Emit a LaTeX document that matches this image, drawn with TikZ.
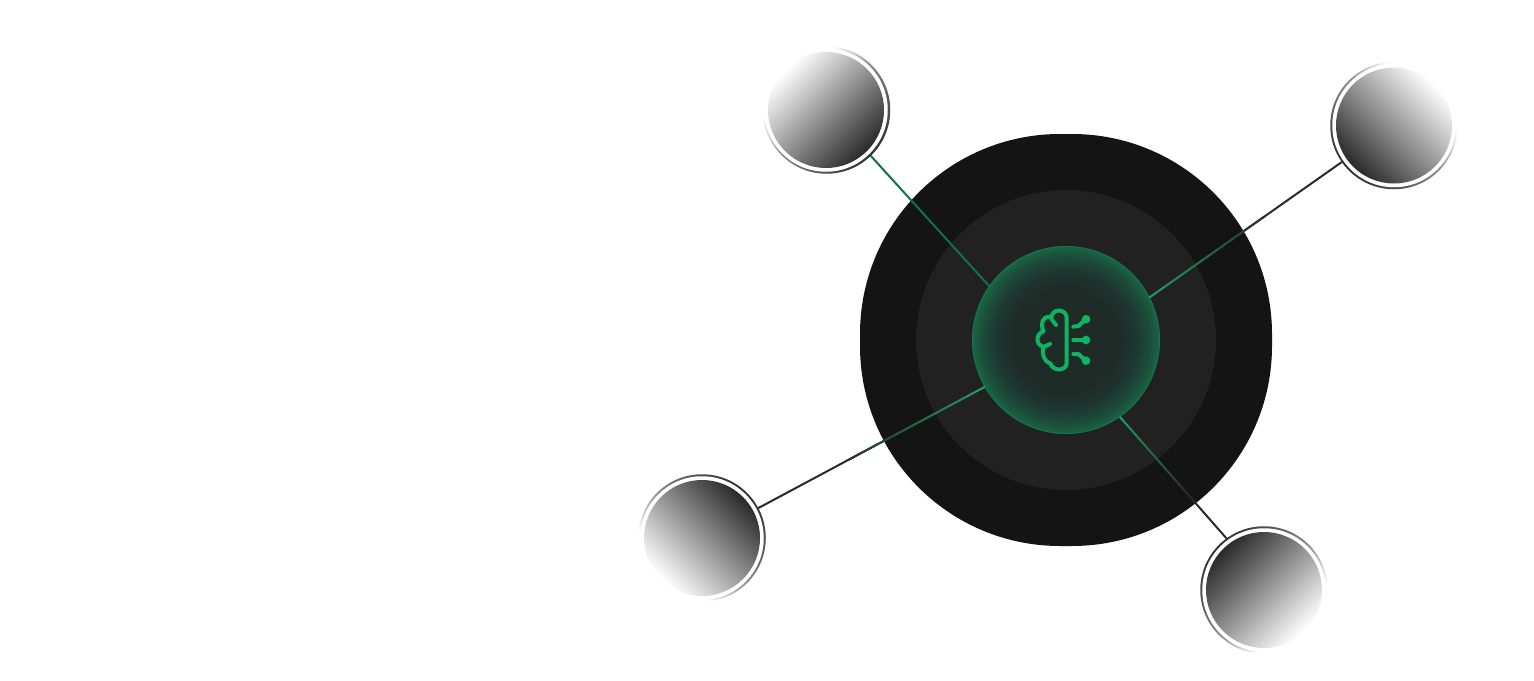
\documentclass[tikz,border=0pt]{standalone}
\usetikzlibrary{calc}

\definecolor{bodyblack}{HTML}{141414}
\definecolor{midgrey}{HTML}{212121}
\definecolor{linkdark}{HTML}{2A2A2A}
\definecolor{linkgreen}{HTML}{1F9F68}
\definecolor{linkdeep}{HTML}{10704F}
\definecolor{iconGreen}{HTML}{0EB462}
\definecolor{hubcore}{HTML}{1F2B26}
\definecolor{hubmid}{HTML}{1E3630}
\definecolor{hubouter}{HTML}{1B4E3A}
\definecolor{hubedge}{HTML}{196446}
\definecolor{hubline}{HTML}{17754C}
\definecolor{ringdark}{HTML}{333333}
\definecolor{ringmid}{HTML}{8C8C8C}

\pgfdeclareradialshading{hubglow}{\pgfpoint{0bp}{0bp}}{%
  color(0bp)=(hubcore); color(14bp)=(hubcore); color(18.5bp)=(hubmid);
  color(22.5bp)=(hubouter); color(25bp)=(hubedge); color(50bp)=(hubedge)}
\pgfdeclareverticalshading{ringfade}{100bp}{%
  color(0bp)=(white); color(34bp)=(white); color(50bp)=(ringmid);
  color(75bp)=(ringdark); color(100bp)=(ringdark)}

\begin{document}
\begin{tikzpicture}[
	x=1pt, y=-1pt,
	round/.style={circle, inner sep=0pt, outer sep=0pt},
	ringnode/.style={round, minimum size=127.5pt, shading=ringfade},
	gapnode/.style={round, minimum size=123.5pt, fill=white},
	discnode/.style={round, minimum size=116pt, top color=linkdark, bottom color=white},
	link/.style={line width=2pt},
	icon/.style={draw=iconGreen, line width=4pt, line cap=round, line join=round}
	]
	\useasboundingbox (0,0) rectangle (1534,680);
	\fill[white] (0,0) rectangle (1534,680);

	% Nodes
	\node[rectangle, inner sep=0pt, minimum size=412pt, rounded corners=200pt, fill=bodyblack] (body) at (1066,340) {};
	\node[round, minimum size=300pt, fill=midgrey] (mid) at (1066,340) {};
	\node[round, minimum size=187pt, shading=hubglow, draw=hubline, line width=1pt] (hub) at (1066,340) {};

	\node[ringnode, shading angle=225] (ringA) at (826.5,110) {};
	\node[gapnode] (gapA) at (826,110) {};
	\node[discnode, shading angle=225] (discA) at (826,110) {};

	\node[ringnode, shading angle=135] (ringB) at (1394,125.5) {};
	\node[gapnode] (gapB) at (1394,125.5) {};
	\node[discnode, shading angle=135] (discB) at (1394,125.5) {};

	\node[ringnode, shading angle=-45] (ringC) at (702,538) {};
	\node[gapnode] (gapC) at (702,538) {};
	\node[discnode, shading angle=-45] (discC) at (702,538) {};

	\node[ringnode, shading angle=45] (ringD) at (1264,590) {};
	\node[gapnode] (gapD) at (1264,590) {};
	\node[discnode, shading angle=45] (discD) at (1264,590) {};

	% Links from the hub
	\draw[link, linkdeep] (hub.145.5) -- (ringA.-46.3);
	\foreach \from/\to in {hub.27.4/ringB.215.8, hub.210.1/ringC.28.2, hub.-55.5/ringD.126.9} {
		\draw[link, linkdark] (\from) -- (\to);
		\foreach \k in {0,...,14} {
			\pgfmathsetmacro{\mixval}{100*(1-\k/15)}
			\draw[link, linkgreen!\mixval!linkdark] ($(\from)!{\k/25}!(\to)$) -- ($(\from)!{(\k+1)/25}!(\to)$);
		}
	}

	% Brain icon
	\draw[icon] (1066.7,363) -- (1066.7,318) .. controls (1066.7,313.5) and (1063,310.5) .. (1059,310.5)
		.. controls (1055,310.5) and (1052,313) .. (1051.5,317)
		.. controls (1046.5,315.5) and (1041.5,319) .. (1042,325)
		.. controls (1042,327.5) and (1042.5,329.5) .. (1043.5,331.5)
		.. controls (1037,332.5) and (1034,344) .. (1043.5,347)
		.. controls (1041.5,354) and (1043.5,361) .. (1050.5,363.5)
		.. controls (1051.5,367) and (1055,369.5) .. (1059,369.5)
		.. controls (1063,369.5) and (1066.7,367) .. (1066.7,363);
	\draw[icon] (1051.7,319.5) -- (1056,325);
	\draw[icon] (1043.5,347) -- (1050,344);
	\draw[icon] (1073.3,326.7) -- (1078.3,326) -- (1086,319.3);
	\draw[icon] (1073.3,340) -- (1086,340);
	\draw[icon] (1073.3,354) -- (1078.3,354) -- (1086,360.7);
	\fill[iconGreen] (1086,319.3) circle (4.3pt) (1086,340) circle (4.3pt) (1086,360.7) circle (4.3pt);
\end{tikzpicture}
\end{document}
